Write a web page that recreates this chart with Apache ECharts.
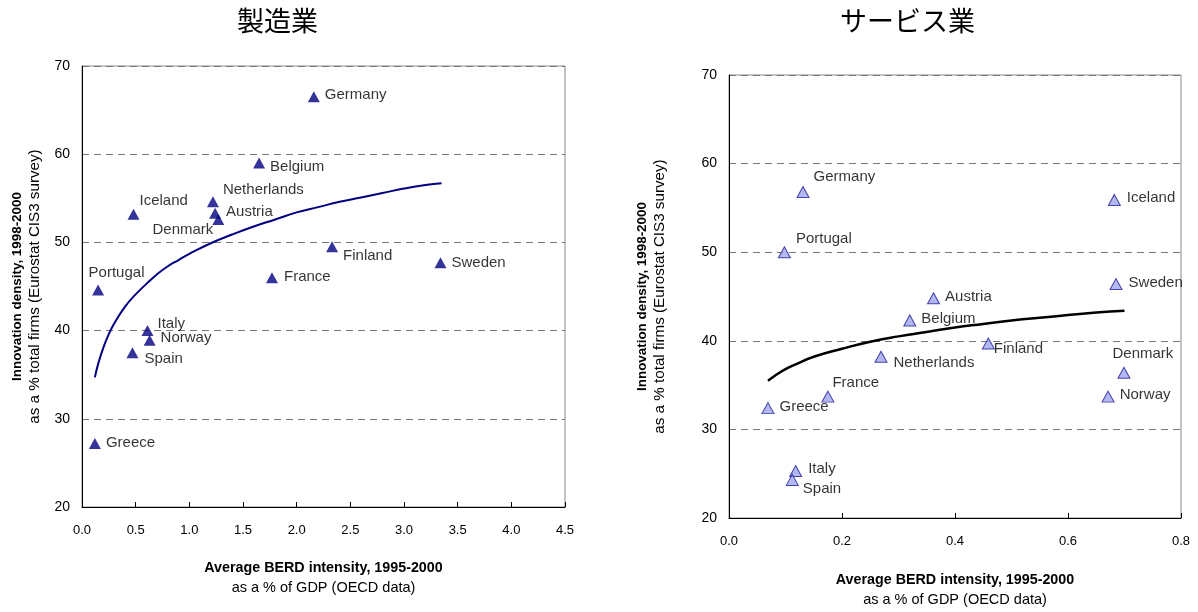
<!DOCTYPE html>
<html><head><meta charset="utf-8">
<script src="https://cdn.jsdelivr.net/npm/echarts@6/dist/echarts.min.js"></script>
<style>html,body{margin:0;padding:0;background:#fff}#c{width:1198px;height:612px}</style>
</head><body><div id="c"></div>
<script>
// ---------- Data ----------
const titles = ['製造業', 'サービス業'];

const mfgCountries = ['Germany','Belgium','Netherlands','Iceland','Austria','Denmark','Finland','Sweden','France','Portugal','Italy','Norway','Spain','Greece'];
const mfgX = [2.16, 1.65, 1.22, 0.48, 1.24, 1.27, 2.33, 3.34, 1.77, 0.15, 0.61, 0.63, 0.47, 0.12];
const mfgY = [66.5, 59.0, 54.6, 53.2, 53.3, 52.6, 49.5, 47.7, 46.0, 44.6, 40.0, 38.9, 37.5, 27.2];

const mfgTrendX = [0.12, 0.15, 0.2, 0.25, 0.3, 0.4, 0.5, 0.6, 0.7, 0.8, 0.9, 1.0, 1.2, 1.4, 1.6, 1.8, 2.0, 2.2, 2.4, 2.6, 2.8, 3.0, 3.2, 3.35];
const mfgTrendY = [34.7, 36.2, 38.1, 39.6, 40.8, 42.7, 44.1, 45.3, 46.4, 47.3, 48.0, 48.7, 49.9, 50.9, 51.8, 52.6, 53.4, 54.0, 54.6, 55.1, 55.6, 56.1, 56.5, 56.7];

const svcCountries = ['Germany','Iceland','Portugal','Sweden','Austria','Belgium','Finland','Netherlands','Denmark','France','Norway','Greece','Italy','Spain'];
const svcX = [0.131, 0.682, 0.098, 0.685, 0.362, 0.320, 0.459, 0.269, 0.699, 0.175, 0.671, 0.069, 0.118, 0.112];
const svcY = [56.8, 55.9, 50.0, 46.4, 44.8, 42.3, 39.7, 38.2, 36.4, 33.7, 33.7, 32.4, 25.3, 24.3];

const svcTrendX = [0.069, 0.08, 0.1, 0.12, 0.15, 0.2, 0.25, 0.3, 0.35, 0.4, 0.45, 0.5, 0.55, 0.6, 0.65, 0.7];
const svcTrendY = [35.5, 36.0, 36.8, 37.4, 38.2, 39.1, 39.9, 40.5, 41.0, 41.5, 41.9, 42.3, 42.6, 42.9, 43.2, 43.4];

const mfgXTicks = ['0.0','0.5','1.0','1.5','2.0','2.5','3.0','3.5','4.0','4.5'];
const svcXTicks = ['0.0','0.2','0.4','0.6','0.8'];
const yTicks = ['20','30','40','50','60','70'];

const yName1 = 'Innovation density, 1998-2000';
const yName2 = 'as a % total firms (Eurostat CIS3 survey)';
const xName1 = 'Average BERD intensity, 1995-2000';
const xName2 = 'as a % of GDP (OECD data)';

// ---------- Label placement (style) ----------
// [side, dx, dy]: 'L' = text left edge at marker centre + dx ; 'R' = text right edge at marker centre + dx
const mfgLabelPos = {
  Germany:['L',11,-2], Belgium:['L',11,4], Netherlands:['L',10,-12], Iceland:['L',6,-13],
  Austria:['L',11,-1], Denmark:['R',-5,10], Finland:['L',11,9], Sweden:['L',11,0],
  France:['L',12,-1], Portugal:['L',-9.5,-17], Italy:['L',10,-7], Norway:['L',11,-2],
  Spain:['L',12,6], Greece:['L',11,-1]
};
const svcLabelPos = {
  Germany:['L',10,-15], Iceland:['L',12,-2], Portugal:['L',11,-13], Sweden:['L',12,-1],
  Austria:['L',11,-1], Belgium:['L',11,-2], Finland:['L',5,5], Netherlands:['L',12,6],
  Denmark:['L',-12,-19], France:['L',4,-14], Norway:['L',11,-2], Greece:['L',11,-1],
  Italy:['L',12,-2], Spain:['L',10,9]
};

const FONT = "'Liberation Sans', Arial, sans-serif";
const SYM = [12, 11];
const HALF = SYM[0] / 2;

function pts(xs, ys, names, posMap) {
  return xs.map((x, i) => {
    const p = posMap[names[i]];
    const lab = p[0] === 'L'
      ? { position: 'right', offset: [p[1] - HALF, p[2]] }
      : { position: 'left', offset: [p[1] + HALF, p[2]] };
    return { name: names[i], value: [x, ys[i]], label: lab };
  });
}
function line(xs, ys) { return xs.map((x, i) => [x, ys[i]]); }

function xAxisCfg(gridIndex, max, interval, ticks, gap) {
  return {
    type: 'value', gridIndex, min: 0, max, interval,
    axisLine: { show: true, onZero: false, lineStyle: { color: '#000', width: 1 } },
    axisTick: { show: true, inside: true, length: 5, lineStyle: { color: '#000' } },
    axisLabel: { margin: 17, color: '#000', fontFamily: FONT, fontSize: 13,
      formatter: v => ticks[Math.round(v / interval)] },
    splitLine: { show: false },
    name: '{b|' + xName1 + '}\n{n|' + xName2 + '}',
    nameLocation: 'middle', nameGap: gap,
    nameTextStyle: { color: '#000', align: 'center', rich: {
      b: { fontFamily: FONT, fontWeight: 'bold', fontSize: 14.3, lineHeight: 19, color: '#000' },
      n: { fontFamily: FONT, fontSize: 14.5, lineHeight: 19, color: '#000' } } }
  };
}
function yAxisCfg(gridIndex, gap) {
  return {
    type: 'value', gridIndex, min: 20, max: 70, interval: 10,
    axisLine: { show: true, onZero: false, lineStyle: { color: '#000', width: 1 } },
    axisTick: { show: false },
    axisLabel: { margin: 12, color: '#000', fontFamily: FONT, fontSize: 14,
      formatter: v => yTicks[Math.round((v - 20) / 10)] },
    splitLine: { show: true, lineStyle: { color: '#777', type: [7, 5], width: 1 } },
    name: '{b|' + yName1 + '}\n{n|' + yName2 + '}',
    nameLocation: 'middle', nameGap: gap, nameRotate: 90,
    nameTextStyle: { color: '#000', align: 'center', rich: {
      b: { fontFamily: FONT, fontWeight: 'bold', fontSize: 13.4, lineHeight: 18, color: '#000' },
      n: { fontFamily: FONT, fontSize: 15.2, lineHeight: 18, color: '#000' } } }
  };
}

const labelStyle = { show: true, formatter: '{b}', color: '#000', fontFamily: FONT, fontSize: 15, distance: 0 };

const option = {
  animation: false,
  backgroundColor: '#fff',
  graphic: [
    { type: 'text', left: 237, top: 7, style: { text: titles[0], font: "27px 'Noto Sans CJK JP'", fill: '#000' } },
    { type: 'text', left: 840, top: 7, style: { text: titles[1], font: "27px 'Noto Sans CJK JP'", fill: '#000' } }
  ],
  grid: [
    { left: 82, top: 66, width: 483, height: 441, show: true, borderColor: '#888', borderWidth: 1, backgroundColor: 'transparent' },
    { left: 729, top: 75, width: 452, height: 443, show: true, borderColor: '#888', borderWidth: 1, backgroundColor: 'transparent' }
  ],
  xAxis: [ xAxisCfg(0, 4.5, 0.5, mfgXTicks, 52), xAxisCfg(1, 0.8, 0.2, svcXTicks, 53) ],
  yAxis: [ yAxisCfg(0, 38), yAxisCfg(1, 60) ],
  series: [
    { type: 'line', xAxisIndex: 0, yAxisIndex: 0, data: line(mfgTrendX, mfgTrendY), smooth: true,
      showSymbol: false, lineStyle: { color: '#000080', width: 2 }, z: 2 },
    { type: 'scatter', xAxisIndex: 0, yAxisIndex: 0, data: pts(mfgX, mfgY, mfgCountries, mfgLabelPos),
      symbol: 'triangle', symbolSize: SYM, itemStyle: { color: '#000080' }, label: labelStyle, z: 3 },
    { type: 'line', xAxisIndex: 1, yAxisIndex: 1, data: line(svcTrendX, svcTrendY), smooth: true,
      showSymbol: false, lineStyle: { color: '#000', width: 2.5 }, z: 2 },
    { type: 'scatter', xAxisIndex: 1, yAxisIndex: 1, data: pts(svcX, svcY, svcCountries, svcLabelPos),
      symbol: 'triangle', symbolSize: SYM, itemStyle: { color: '#a0a6ee', borderColor: '#1c1c96', borderWidth: 1 },
      label: labelStyle, z: 3 }
  ]
};

const chart = echarts.init(document.getElementById('c'), null, { renderer: 'canvas' });
chart.setOption(option);
</script>
</body></html>
